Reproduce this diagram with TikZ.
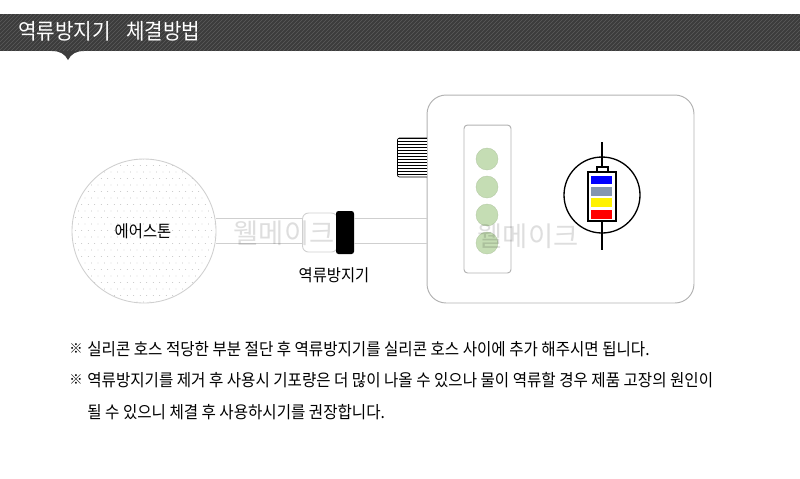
\documentclass[tikz,border=0pt]{standalone}
\usepackage{fontspec}
\setmainfont{Noto Sans CJK KR}
\newfontfamily\narrowfont[FakeStretch=0.92]{Noto Sans CJK KR}
\definecolor{headgray}{HTML}{3C3C3C}
\definecolor{hosegray}{HTML}{CFCFCF}
\definecolor{ledgreen}{HTML}{C5DDB4}
\definecolor{bandgray}{HTML}{8496B0}
\tikzset{
  hoseline/.style={draw=hosegray,line width=0.5pt},
  boxline/.style={draw=black!30,line width=0.55pt},
  led/.style={circle,fill=ledgreen,draw=ledgreen!90!black,line width=0.2pt,minimum size=0.44cm,inner sep=0pt},
  band/.style={fill=#1,draw=none},
  label/.style={font=\narrowfont\fontsize{9.5}{11}\selectfont,inner sep=0pt,text=black},
  note/.style={font=\narrowfont\fontsize{9.64}{11}\selectfont,inner sep=0pt,anchor=west,text=black},
  refmark/.style={font=\fontsize{7.6}{9}\selectfont,inner sep=0pt,anchor=west,text=black},
  watermark/.style={font=\fontsize{15.6}{18}\selectfont,text=black,text opacity=0.13,inner sep=0pt}
}
\begin{document}
\begin{tikzpicture}[x=0.02cm,y=-0.02cm]
        \useasboundingbox (0,0) rectangle (800,478);
        % Draw header
        \fill[headgray] (0,14) rectangle (800,51);
        \begin{scope}
            \clip (0,14) rectangle (800,51);
            \foreach \x in {0,4,...,840}
                \draw[white!16!headgray,line width=0.35pt] (\x,14) -- (\x-37,51);
        \end{scope}
        \fill[headgray] (52,51) .. controls (60,51) and (65,54) .. (68,60) .. controls (71,54) and (76,51) .. (84,51) -- cycle;
        \node[anchor=west,inner sep=0pt,text=white,font=\narrowfont\fontsize{12.45}{14}\selectfont] (title) at (18,31) {역류방지기\hspace{0.7em}체결방법};

        % Draw air stone
        \node[circle,minimum size=2.88cm,inner sep=0pt] (stone) at (144,231) {};
        \begin{scope}
            \clip (144,231) circle (72);
            \foreach \i in {0,...,24}
                \foreach \j in {0,...,24}
                    \fill[black!40] ({72+\i*6.5+mod(\j,2)*3.25},{159+\j*6.5}) circle (0.45);
        \end{scope}
        \draw[hosegray,line width=0.5pt] (stone.center) circle (72);
        \node[label] (stonetext) at (143,231) {에어스톤};

        % Draw device
        \node[boxline,draw,rounded corners=0.38cm,minimum width=5.34cm,minimum height=4.16cm,inner sep=0pt] (device) at (560.5,199) {};
        \node[boxline,draw,rounded corners=0.07cm,minimum width=0.94cm,minimum height=2.96cm,inner sep=0pt] (panel) at (487.5,199) {};
        \foreach \y [count=\n] in {159,187,215,243}
            \node[led] (led\n) at (487,\y) {};

        % Draw hatch block
        \begin{scope}
            \clip[rounded corners=0.04cm] (397.5,138) rectangle (440,177);
            \fill[white] (397.5,138) rectangle (427,177);
            \foreach \y in {138.5,141.5,...,177}
                \draw[black,line width=0.75pt] (397.5,\y) -- (427,\y);
        \end{scope}
        \draw[black,line width=0.4pt,rounded corners=0.04cm] (427,138) -- (397.5,138) -- (397.5,177) -- (427,177);

        % Draw hose and valve
        \coordinate (hoseA) at (216,218);
        \coordinate (hoseB) at (216,243);
        \node[draw=hosegray,line width=0.5pt,rounded corners=0.12cm,minimum width=0.7cm,minimum height=0.78cm,inner sep=0pt] (valve) at (320,232.5) {};
        \node[fill=black,rounded corners=0.05cm,minimum width=0.36cm,minimum height=0.86cm,inner sep=0pt] (stopper) at (345,232.5) {};
        \coordinate (hoseC) at (stopper.east |- hoseA);
        \coordinate (hoseD) at (stopper.east |- hoseB);
        \coordinate (hoseE) at (device.west |- hoseA);
        \coordinate (hoseF) at (device.west |- hoseB);
        \coordinate (hoseG) at (valve.west |- hoseA);
        \coordinate (hoseH) at (valve.west |- hoseB);
        \draw[hoseline] (hoseA) -- (hoseG);
        \draw[hoseline] (hoseB) -- (hoseH);
        \draw[hoseline] (hoseC) -- (hoseE);
        \draw[hoseline] (hoseD) -- (hoseF);
        \node[label] (valvetext) at (334,275) {역류방지기};

        % Draw gauge
        \node[circle,draw=black,line width=0.75pt,minimum size=1.52cm,inner sep=0pt] (gauge) at (602,195) {};
        \coordinate (pinA) at (602,142);
        \coordinate (pinB) at (602,250);
        \draw[black,line width=0.75pt] (pinA) -- (pinB);
        \filldraw[fill=white,draw=black,line width=0.7pt] (597,167) rectangle (608,172);
        \filldraw[fill=white,draw=black,line width=0.7pt] (588,172) rectangle (616,221);
        \fill[band=blue] (591,176) rectangle (612,184);
        \fill[band=bandgray] (591,187) rectangle (612,196);
        \fill[band=yellow] (591,198) rectangle (612,207);
        \fill[band=red] (591,210) rectangle (612,219);

        % Draw watermarks
        \node[watermark] (markA) at (284,233) {웰메이크};
        \node[watermark] (markB) at (528,236) {웰메이크};

        % Draw notes
        \node[refmark] (refA) at (69,349) {※};
        \node[note] (noteA) at (87,349) {실리콘 호스 적당한 부분 절단 후 역류방지기를 실리콘 호스 사이에 추가 해주시면 됩니다.};
        \node[refmark] (refB) at (69,380) {※};
        \node[note] (noteB) at (87,380) {역류방지기를 제거 후 사용시 기포량은 더 많이 나올 수 있으나 물이 역류할 경우 제품 고장의 원인이};
        \node[note] (noteC) at (87,412) {될 수 있으니 체결 후 사용하시기를 권장합니다.};
    \end{tikzpicture}
\end{document}
